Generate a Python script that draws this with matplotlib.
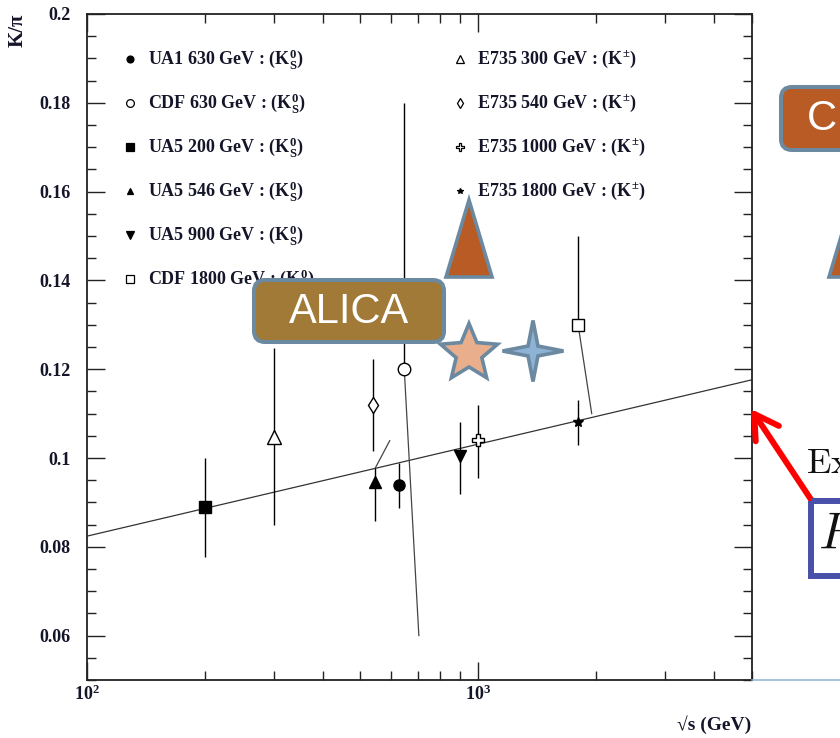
import numpy as np
import matplotlib
matplotlib.use("Agg")
import matplotlib.pyplot as plt
import matplotlib.transforms as mtransforms
from matplotlib.patches import FancyBboxPatch, Polygon, Rectangle, FancyArrowPatch
from matplotlib.lines import Line2D
from matplotlib.ticker import MultipleLocator, FuncFormatter, LogLocator, NullFormatter

plt.rcParams['font.family'] = ['Liberation Serif', 'DejaVu Serif']
plt.rcParams['font.weight'] = 'bold'
plt.rcParams['axes.labelweight'] = 'bold'
plt.rcParams['mathtext.fontset'] = 'custom'
plt.rcParams['mathtext.rm'] = 'Liberation Serif:bold'
plt.rcParams['mathtext.it'] = 'Liberation Serif:italic:bold'
plt.rcParams['mathtext.bf'] = 'Liberation Serif:bold'

# K/pi measurements in p-pbar collisions
labels = ["UA1 630 GeV", "CDF 630 GeV", "UA5 200 GeV", "UA5 546 GeV", "UA5 900 GeV",
          "CDF 1800 GeV", "E735 300 GeV", "E735 540 GeV", "E735 1000 GeV", "E735 1800 GeV"]
species = [r"(K$_\mathrm{S}^{0}$)"] * 6 + [r"(K$^{\pm}$)"] * 4
sqrt_s = [627, 647, 200, 546, 896, 1800, 300, 539, 1000, 1800]
k_pi = [0.0939, 0.120, 0.0889, 0.0947, 0.1004, 0.130, 0.1047, 0.1119, 0.104, 0.108]
err_lo = [0.0052, 0.0, 0.0113, 0.0090, 0.0086, 0.0, 0.0198, 0.0103, 0.0084, 0.0051]
err_hi = [0.0049, 0.060, 0.0112, 0.0031, 0.0076, 0.020, 0.0201, 0.0103, 0.0079, 0.0051]

# error bars that run off at an angle
tilt_x0 = [647, 1800, 546]
tilt_y0 = [0.120, 0.130, 0.0978]
tilt_x1 = [705, 1950, 594]
tilt_y1 = [0.060, 0.110, 0.1039]

# log fit
fit_s = [100, 5000]
fit_kpi = [0.0824, 0.1176]

markers = ['o', 'o', 's', '^', 'v', 's', '^', 'd', 'P', '*']
filled = [True, False, True, True, True, False, False, False, False, True]
msizes = [8, 9, 8.5, 8, 9, 8.5, 10, 8, 8.5, 7]

W, H = 840, 738
fig = plt.figure(figsize=(W / 100, H / 100), dpi=100)
ax = fig.add_axes([87 / W, 58 / H, 664.7 / W, 666 / H])
ax.set_xscale('log')
ax.set_xlim(100, 5000)
ax.set_ylim(0.05, 0.2)

ink = '#15152a'

ax.plot(fit_s, fit_kpi, color='#333333', lw=0.9, zorder=2)

for x0, y0, x1, y1 in zip(tilt_x0, tilt_y0, tilt_x1, tilt_y1):
    ax.plot([x0, x1], [y0, y1], color='#444444', lw=0.9, zorder=2)

for i in range(len(labels)):
    ax.errorbar(sqrt_s[i], k_pi[i], yerr=[[err_lo[i]], [err_hi[i]]], fmt='none',
                ecolor='black', elinewidth=1.0, capsize=0, zorder=3)
    ax.plot(sqrt_s[i], k_pi[i], marker=markers[i], ms=msizes[i], ls='none',
            mfc='black' if filled[i] else 'white', mec='black', mew=1.0, zorder=4)

# legend in two columns
rows_left = 6
for i in range(len(labels)):
    col = 0 if i < rows_left else 1
    row = i if i < rows_left else i - rows_left
    mx = 0.0647 if col == 0 else 0.561
    tx = 0.0918 if col == 0 else 0.587
    ty = 0.9324 - row * 0.0662
    ax.plot(mx, ty, marker=markers[i], ms=msizes[i] * 0.62, ls='none',
            mfc='black' if filled[i] else 'white', mec='black', mew=0.9,
            transform=ax.transAxes, clip_on=False, zorder=5)
    ax.text(tx, ty, labels[i] + " : " + species[i], transform=ax.transAxes,
            fontsize=13, color=ink, va='center', ha='left', zorder=5)

ax.yaxis.set_major_locator(MultipleLocator(0.02))
ax.yaxis.set_minor_locator(MultipleLocator(0.005))
ax.yaxis.set_major_formatter(FuncFormatter(lambda v, p: '%g' % round(v, 3)))
ax.xaxis.set_major_locator(LogLocator(base=10))
ax.xaxis.set_minor_locator(LogLocator(base=10, subs=np.arange(2, 10)))
ax.xaxis.set_minor_formatter(NullFormatter())

ax.tick_params(which='both', direction='in', top=True, right=True, width=1.0, color='#222222')
ax.tick_params(which='major', length=13)
ax.tick_params(which='minor', length=6.5)
ax.tick_params(axis='y', which='major', pad=12, labelsize=13, labelcolor=ink)
ax.tick_params(axis='x', which='major', pad=3, labelsize=13, labelcolor=ink)
for s in ax.spines.values():
    s.set_linewidth(1.3)
    s.set_color('#222222')

ax.set_xlabel(r"√s (GeV)", fontsize=14, color=ink, weight='bold')
ax.xaxis.set_label_coords(1.0, -0.0676)
ax.xaxis.label.set_ha('right')
ax.xaxis.label.set_va('center')

# pixel-space transform for the annotations drawn over the figure
px = mtransforms.Affine2D().scale(1 / W, -1 / H).translate(0, 1) + fig.transFigure

fig.text(18, 14, r"K/π", transform=px, rotation=90, ha='center', va='top',
         fontsize=15, color=ink, weight='bold')

edge = '#6B8AA1'
brown = '#B85B24'

box = FancyBboxPatch((254, 280), 190, 62, boxstyle='round,pad=0,rounding_size=11',
                     fc='#A07A36', ec=edge, lw=2.9, transform=px, zorder=6)
fig.add_artist(box)
fig.text(349, 312, "ALICA", transform=px, ha='center', va='center', color='white',
         fontsize=30, family='Liberation Sans', weight='normal', zorder=7)

cbox = FancyBboxPatch((781, 87), 120, 63, boxstyle='round,pad=0,rounding_size=11',
                      fc=brown, ec=edge, lw=2.9, transform=px, zorder=6)
fig.add_artist(cbox)
fig.text(807, 119, "C", transform=px, ha='left', va='center', color='white',
         fontsize=30, family='Liberation Sans', weight='normal', zorder=7)

for apex_x in (469, 852):
    tri = Polygon([[apex_x, 200], [apex_x - 23, 277], [apex_x + 23, 277]], closed=True,
                  fc=brown, ec=edge, lw=2.6, joinstyle='miter', transform=px, zorder=6)
    fig.add_artist(tri)

# five-point star
ang = np.pi / 2 + np.arange(10) * np.pi / 5
rad = np.where(np.arange(10) % 2 == 0, 30.0, 13.5)
star5 = np.column_stack([469 + rad * np.cos(ang), 353.5 - rad * np.sin(ang)])
fig.add_artist(Polygon(star5, closed=True, fc='#E9AE8B', ec=edge, lw=2.6,
                       joinstyle='miter', transform=px, zorder=6))

# four-point star
ang4 = np.pi / 2 + np.arange(8) * np.pi / 4
rad4 = np.where(np.arange(8) % 2 == 0, 30.5, 7.0)
star4 = np.column_stack([533 + rad4 * np.cos(ang4), 351 - rad4 * np.sin(ang4)])
fig.add_artist(Polygon(star4, closed=True, fc='#8EB2D4', ec=edge, lw=2.6,
                       joinstyle='miter', transform=px, zorder=6))

arrow = FancyArrowPatch(posA=(812, 501), posB=(751, 409),
                        arrowstyle='->,head_length=17,head_width=10',
                        mutation_scale=1, shrinkA=0, shrinkB=0, color='#FF0000',
                        lw=4.3, capstyle='round', joinstyle='round',
                        transform=px, zorder=6)
fig.add_artist(arrow)

fig.text(806, 473, r"$\mathrm{Ex}$", transform=px, ha='left', va='baseline',
         fontsize=26, color='#111111', math_fontfamily='cm', zorder=7)

fig.add_artist(Rectangle((810.7, 501.3), 100, 75, fc='none', ec='#4850AA', lw=4.3,
                         transform=px, zorder=6))
fig.text(818, 548, r"$R$", transform=px, ha='left', va='baseline',
         fontsize=37, color='#111111', math_fontfamily='cm', zorder=7)

fig.add_artist(Line2D([752, 840], [680, 680], color='#8DB3D8', lw=1.1, transform=px, zorder=6))

fig.savefig('out.png', dpi=100)
